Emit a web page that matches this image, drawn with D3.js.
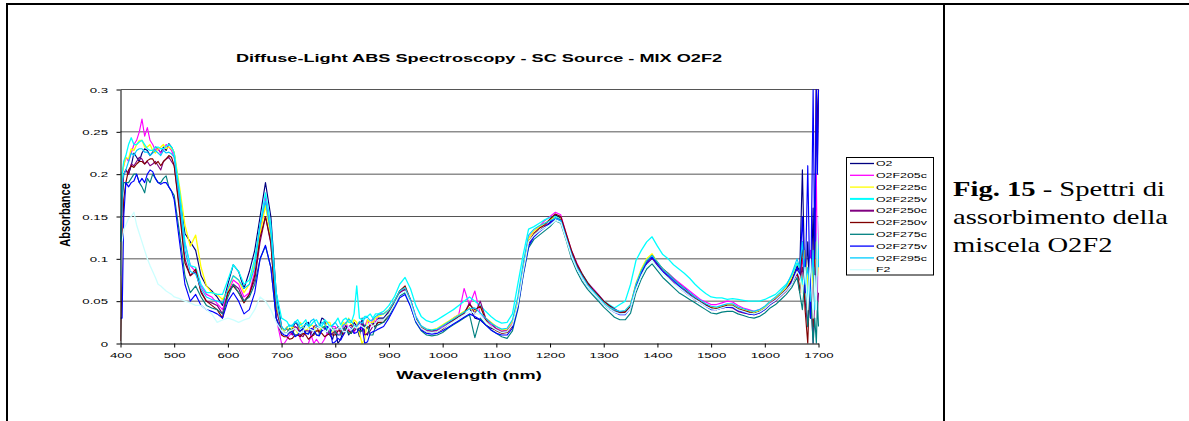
<!DOCTYPE html>
<html><head><meta charset="utf-8">
<script src="https://cdn.jsdelivr.net/npm/d3@7"></script>
<style>body{margin:0;background:#fff}svg{display:block}</style>
</head><body><svg id="c" width="1189" height="421"></svg>
<script>
// ---------- DATA ----------
const wavelengths = [400,403,406,
 410,415,420,425,430,435,440,445,450,455,460,465,470,475,480,485,490,495,500,
 510,520,530,540,550,560,570,580,590,600,
 610,620,630,640,650,660,670,680,690,
 700,705,710,715,720,725,730,735,740,745,750,755,760,765,770,775,780,785,790,795,
 800,805,810,815,820,825,830,835,840,845,850,855,860,865,870,875,880,
 890,900,
 910,920,930,940,950,960,970,980,990,1000,
 1010,1020,1030,1040,1050,1060,1070,1080,1090,1100,
 1110,1120,1130,1140,1150,1160,1170,1180,1190,1200,
 1210,1220,1230,1240,1250,1260,1270,1280,1290,1300,
 1310,1320,1330,1340,1350,1360,1370,1380,1390,1400,
 1410,1420,1430,1440,1450,1460,1470,1480,1490,1500,
 1510,1520,1530,1540,1550,1560,1570,1580,1590,1600,
 1610,1620,1630,1640,1650,1660,
 1665,1670,1675,1680,1685,1690,1693,1696,1698,1700];

const seriesNames = ["O2","O2F205c","O2F225c","O2F225v","O2F250c","O2F250v","O2F275c","O2F275v","O2F295c","F2"];
const seriesColors = ["#000080","#FF00FF","#FFFF00","#00FFFF","#800080","#800000","#008080","#0000FF","#00CCFF","#CCFFFF"];

const O2 = [.10,.19,.2,
 .205,.2,.21,.225,.22,.215,.225,.23,.228,.222,.226,.232,.23,.225,.232,.228,.236,.232,.225,
 .175,.13,.12,.11,.08,.068,.062,.055,.045,.07,
 .093,.085,.065,.085,.11,.15,.19,.15,.06,
 .02,.015,.018,.012,.016,.025,.022,.01,.015,.024,.025,.008,.012,.02,.02,.03,.028,.012,.01,.005,
 .018,.0,.005,.015,.022,.01,.015,.025,.02,.008,.03,.012,.01,.022,.025,.018,.03,
 .03,.038,
 .05,.062,.066,.05,.03,.02,.016,.015,.016,.02,
 .024,.028,.032,.037,.042,.03,.028,.022,.018,.016,
 .013,.014,.022,.045,.085,.118,.128,.133,.138,.143,
 .152,.148,.128,.108,.092,.08,.07,.062,.055,.048,
 .043,.039,.036,.037,.044,.068,.084,.097,.104,.096,
 .088,.083,.077,.071,.066,.06,.055,.05,.046,.043,
 .042,.044,.046,.045,.041,.039,.037,.036,.038,.042,
 .048,.052,.058,.064,.075,.092,
 .085,.205,.06,.12,.03,.16,.05,.3,.25,.3];

const O2F205c = [.10,.20,.21,
 .22,.215,.225,.235,.24,.25,.265,.245,.255,.24,.235,.228,.23,.225,.228,.235,.232,.228,.22,
 .17,.118,.092,.085,.068,.058,.055,.047,.04,.06,
 .075,.07,.055,.06,.085,.13,.172,.13,.03,
 .0,.0,.005,.01,.012,.02,.018,.005,.0,.0,.0,.01,.0,.005,.0,.0,.005,.012,.015,.02,
 .02,.01,.012,.02,.025,.015,.018,.012,.022,.025,.015,.02,.028,.02,.03,.025,.035,
 .035,.04,
 .05,.06,.065,.052,.032,.02,.015,.014,.015,.02,
 .025,.03,.034,.065,.045,.062,.035,.028,.022,.018,
 .015,.016,.025,.05,.09,.125,.133,.138,.145,.15,
 .155,.152,.13,.11,.095,.082,.072,.065,.058,.05,
 .045,.04,.037,.038,.045,.07,.086,.098,.103,.095,
 .087,.082,.077,.072,.067,.062,.057,.052,.049,.046,
 .046,.048,.05,.049,.045,.042,.04,.038,.04,.043,
 .048,.053,.058,.063,.072,.085,
 .08,.1,.07,.05,.11,.04,.12,.2,.06,.15];

const O2F225c = [.11,.2,.21,
 .22,.218,.23,.228,.235,.24,.24,.232,.232,.235,.228,.225,.23,.232,.235,.23,.232,.23,.226,
 .185,.14,.115,.128,.09,.068,.06,.058,.052,.062,
 .08,.075,.06,.07,.095,.13,.163,.125,.045,
 .018,.015,.02,.012,.02,.018,.012,.025,.018,.015,.018,.022,.02,.015,.015,.02,.02,.025,.025,.012,
 .015,.02,.018,.025,.022,.03,.02,.028,.025,.012,.0,.005,.028,.025,.025,.03,.032,
 .035,.04,
 .05,.062,.066,.05,.03,.02,.017,.016,.018,.022,
 .026,.03,.034,.038,.042,.038,.045,.03,.025,.02,
 .016,.017,.026,.05,.09,.124,.133,.138,.142,.146,
 .15,.147,.127,.107,.092,.08,.07,.062,.055,.048,
 .043,.04,.037,.038,.046,.071,.088,.1,.106,.096,
 .088,.082,.076,.07,.064,.059,.054,.05,.046,.043,
 .042,.044,.046,.046,.042,.04,.038,.037,.039,.043,
 .05,.054,.06,.066,.078,.095,
 .09,.06,.11,.07,.04,.09,.05,.12,.08,.1];

const O2F225v = [.12,.2,.215,
 .222,.235,.243,.235,.235,.238,.24,.235,.23,.228,.228,.232,.232,.23,.23,.233,.235,.232,.225,
 .18,.12,.092,.09,.07,.06,.06,.058,.058,.075,
 .093,.085,.07,.075,.1,.14,.178,.14,.06,
 .03,.028,.026,.02,.022,.025,.028,.022,.024,.028,.02,.022,.026,.028,.022,.02,.028,.025,.02,.022,
 .025,.03,.022,.028,.03,.025,.025,.035,.068,.03,.028,.032,.032,.035,.03,.035,.035,
 .038,.045,
 .055,.07,.078,.065,.045,.032,.027,.025,.028,.032,
 .036,.04,.045,.05,.055,.05,.045,.038,.032,.027,
 .024,.025,.035,.07,.105,.135,.138,.142,.146,.149,
 .15,.146,.126,.108,.093,.082,.072,.064,.057,.05,
 .046,.042,.046,.05,.07,.098,.11,.12,.126,.115,
 .105,.1,.093,.088,.083,.077,.07,.064,.059,.055,
 .054,.054,.052,.053,.052,.051,.05,.05,.05,.052,
 .055,.058,.064,.07,.08,.095,
 .09,.07,.1,.05,.08,.03,.09,.06,.12,.1];

const O2F250c = [.05,.17,.2,
 .205,.2,.212,.21,.215,.22,.218,.212,.215,.21,.212,.215,.21,.205,.215,.218,.22,.215,.21,
 .16,.1,.08,.085,.062,.05,.048,.045,.035,.06,
 .07,.065,.05,.058,.075,.12,.15,.118,.04,
 .015,.012,.012,.015,.01,.02,.018,.01,.008,.015,.015,.012,.02,.022,.012,.015,.018,.02,.01,.012,
 .015,.02,.012,.018,.015,.02,.022,.015,.018,.025,.025,.01,.012,.015,.02,.025,.028,
 .028,.035,
 .048,.06,.064,.05,.03,.019,.015,.014,.015,.018,
 .023,.027,.03,.035,.048,.035,.05,.03,.024,.017,
 .014,.015,.022,.045,.085,.118,.128,.133,.138,.143,
 .148,.146,.127,.107,.092,.08,.07,.063,.057,.05,
 .045,.041,.037,.037,.043,.066,.082,.094,.1,.092,
 .085,.078,.072,.066,.061,.056,.052,.048,.045,.042,
 .04,.042,.043,.042,.038,.036,.035,.034,.036,.04,
 .046,.05,.056,.062,.07,.082,
 .075,.09,.05,.02,.07,.0,.06,.1,.04,.06];

const O2F250v = [.003,.1,.17,
 .19,.205,.21,.208,.212,.215,.215,.212,.216,.218,.218,.212,.215,.21,.215,.218,.222,.22,.21,
 .155,.095,.08,.088,.06,.05,.045,.04,.03,.06,
 .068,.06,.048,.058,.08,.125,.15,.12,.03,
 .01,.008,.008,.005,.006,.01,.01,.008,.012,.01,.005,.008,.01,.015,.015,.012,.008,.01,.012,.01,
 .01,.015,.015,.01,.018,.015,.012,.018,.02,.015,.015,.02,.018,.022,.022,.02,.025,
 .025,.035,
 .048,.062,.068,.052,.03,.018,.014,.013,.014,.017,
 .022,.027,.032,.036,.046,.04,.044,.028,.02,.015,
 .012,.013,.02,.044,.085,.12,.13,.136,.14,.147,
 .153,.15,.13,.11,.094,.082,.072,.064,.057,.05,
 .045,.04,.037,.037,.044,.068,.085,.097,.104,.095,
 .088,.082,.076,.07,.064,.059,.054,.05,.046,.042,
 .041,.043,.045,.045,.041,.039,.037,.035,.037,.041,
 .047,.052,.058,.064,.074,.088,
 .06,.12,.04,.0,.1,.02,.14,.3,.22,.3];

const O2F275c = [.12,.17,.19,
 .19,.19,.195,.2,.2,.19,.185,.178,.195,.19,.2,.195,.19,.19,.195,.198,.185,.18,.175,
 .13,.08,.06,.068,.055,.045,.042,.04,.035,.055,
 .07,.06,.05,.055,.07,.1,.115,.09,.03,
 .015,.012,.012,.018,.015,.01,.01,.015,.018,.012,.012,.016,.016,.01,.01,.018,.02,.015,.012,.018,
 .014,.01,.01,.018,.016,.012,.012,.02,.018,.015,.015,.022,.02,.01,.01,.02,.022,
 .025,.032,
 .045,.056,.06,.045,.025,.015,.01,.009,.01,.013,
 .018,.022,.026,.03,.034,.007,.03,.022,.016,.012,
 .008,.006,.015,.04,.08,.113,.123,.128,.133,.138,
 .145,.142,.122,.1,.085,.073,.064,.057,.05,.043,
 .037,.031,.028,.028,.036,.06,.076,.088,.094,.086,
 .078,.072,.066,.06,.056,.052,.048,.044,.04,.036,
 .035,.037,.038,.038,.035,.033,.031,.03,.032,.036,
 .042,.046,.052,.058,.066,.078,
 .06,.04,.08,.02,.06,.0,.03,.0,.05,.02];

const O2F275v = [.03,.03,.15,
 .19,.185,.19,.192,.2,.19,.195,.19,.2,.205,.203,.195,.19,.188,.19,.19,.185,.18,.17,
 .12,.07,.05,.058,.045,.04,.038,.035,.03,.05,
 .06,.05,.035,.04,.06,.1,.116,.09,.03,
 .012,.01,.009,.013,.014,.008,.01,.015,.017,.012,.011,.018,.016,.01,.009,.015,.016,.02,.018,.0,
 .002,.006,.004,.01,.015,.02,.018,.012,.013,.018,.02,.0,.002,.012,.014,.015,.017,
 .02,.03,
 .042,.054,.058,.044,.026,.016,.012,.011,.012,.015,
 .019,.023,.027,.031,.035,.032,.028,.022,.016,.012,
 .01,.01,.018,.042,.082,.115,.126,.132,.137,.142,
 .148,.145,.125,.104,.089,.077,.067,.06,.053,.046,
 .041,.037,.034,.034,.042,.066,.083,.095,.102,.093,
 .085,.08,.074,.068,.062,.057,.052,.048,.044,.04,
 .04,.042,.043,.043,.039,.037,.035,.034,.036,.04,
 .046,.051,.057,.063,.072,.09,
 .08,.15,.06,.21,.03,.3,.1,.3,.2,.3];

const O2F295c = [.08,.19,.2,
 .205,.215,.225,.222,.228,.23,.23,.226,.226,.222,.225,.228,.225,.222,.228,.225,.226,.224,.22,
 .17,.11,.085,.082,.065,.055,.052,.05,.048,.065,
 .08,.075,.065,.07,.09,.14,.168,.13,.05,
 .02,.016,.019,.022,.02,.026,.024,.018,.02,.023,.021,.027,.029,.02,.019,.025,.023,.017,.019,.021,
 .025,.02,.017,.022,.024,.029,.026,.021,.02,.026,.024,.03,.031,.027,.028,.032,.034,
 .035,.04,
 .05,.062,.066,.052,.032,.021,.017,.016,.017,.021,
 .025,.029,.033,.037,.041,.042,.036,.03,.024,.02,
 .017,.018,.028,.055,.095,.128,.135,.139,.142,.145,
 .148,.145,.125,.105,.09,.079,.069,.062,.055,.048,
 .043,.04,.038,.039,.046,.07,.086,.098,.104,.096,
 .088,.082,.076,.07,.065,.06,.055,.051,.047,.044,
 .043,.045,.047,.047,.043,.041,.039,.038,.04,.044,
 .05,.055,.061,.068,.082,.1,
 .09,.12,.07,.09,.05,.11,.04,.08,.13,.09];

const F2 = [.05,.12,.135,
 .14,.148,.15,.155,.14,.13,.12,.11,.1,.092,.085,.078,.07,.068,.065,.062,.06,.058,.055,
 .053,.05,.048,.045,.045,.04,.035,.025,.028,.03,
 .028,.025,.028,.03,.04,.055,.05,.04,.025,
 .015,.012,.012,.015,.016,.018,.014,.012,.014,.02,.018,.016,.015,.018,.02,.018,.015,.014,.02,.016,
 .016,.018,.02,.014,.014,.02,.016,.02,.018,.022,.02,.018,.022,.024,.02,.024,.028,
 .028,.035,
 .046,.058,.062,.048,.028,.018,.014,.013,.014,.018,
 .022,.026,.03,.034,.038,.036,.034,.026,.02,.016,
 .013,.014,.022,.046,.085,.12,.128,.133,.137,.14,
 .145,.143,.123,.103,.088,.077,.067,.06,.053,.046,
 .041,.037,.035,.035,.042,.064,.08,.092,.098,.09,
 .083,.077,.071,.066,.061,.056,.052,.048,.044,.041,
 .04,.042,.044,.044,.04,.038,.036,.035,.037,.041,
 .047,.051,.057,.063,.07,.085,
 .08,.06,.09,.04,.1,.03,.08,.04,.12,.15];

const seriesValues = [O2,O2F205c,O2F225c,O2F225v,O2F250c,O2F250v,O2F275c,O2F275v,O2F295c,F2];

const xTicks = [400,500,600,700,800,900,1000,1100,1200,1300,1400,1500,1600,1700];
const yTicks = [0,0.05,0.1,0.15,0.2,0.25,0.3];
const yTickLabels = ["0","0.05","0.1","0.15","0.2","0.25","0.3"];

const chartTitle = "Diffuse-Light ABS Spectroscopy - SC Source - MIX O2F2";
const xTitle = "Wavelength (nm)";
const yTitle = "Absorbance";

// ---------- DRAW ----------
const svg = d3.select("#c");
const SANS = "'Liberation Sans', Arial, sans-serif";
const SERIF = "'Liberation Serif', 'Times New Roman', serif";
const SX = 1.65;

// table borders
svg.append("rect").attr("x",6).attr("y",3).attr("width",1183).attr("height",2).attr("fill","#000");
svg.append("rect").attr("x",6).attr("y",3).attr("width",2).attr("height",418).attr("fill","#000");
svg.append("rect").attr("x",943).attr("y",3).attr("width",2).attr("height",418).attr("fill","#000");

const x = d3.scaleLinear().domain([400,1700]).range([120.5,818.5]);
const y = d3.scaleLinear().domain([0,0.3]).range([343.5,89.5]);

// gridlines
svg.append("g").selectAll("line").data(yTicks.filter(d=>d>0)).join("line")
  .attr("x1",x(400)).attr("x2",x(1700)).attr("y1",d=>y(d)).attr("y2",d=>y(d))
  .attr("stroke","#555").attr("stroke-width",1);

// clip
svg.append("clipPath").attr("id","pc").append("rect")
  .attr("x",x(400)).attr("y",y(0.3)-1).attr("width",x(1700)-x(400)+1).attr("height",y(0)-y(0.3)+1);

const line = d3.line().x(d=>x(d[0])).y(d=>y(d[1]));
const gl = svg.append("g").attr("clip-path","url(#pc)");
seriesValues.forEach((vals,i)=>{
  const pts = wavelengths.map((w,k)=>[w,vals[k]]).filter(p=>p[1]!==undefined);
  gl.append("path").attr("d",line(pts)).attr("fill","none")
    .attr("stroke",seriesColors[i]).attr("stroke-width", (i===9||i===2||i===3) ? 1.3 : 1.15)
    .attr("stroke-linejoin","round");
});

// axes
const ax = svg.append("g").attr("transform",`translate(0,${y(0)})`)
  .call(d3.axisBottom(x).tickValues(xTicks).tickSize(4).tickSizeOuter(0).tickFormat(d3.format("d")));
ax.select(".domain").attr("stroke","#000");
ax.selectAll(".tick line").attr("stroke","#000");
ax.selectAll(".tick text").attr("y",9).attr("dy","0.71em")
  .attr("transform",`scale(${SX},1)`).style("font-family",SANS).style("font-size","8px").attr("fill","#000");

const ay = svg.append("g").attr("transform",`translate(${x(400)},0)`)
  .call(d3.axisLeft(y).tickValues(yTicks).tickSize(4).tickSizeOuter(0).tickFormat((d,i)=>yTickLabels[i]));
ay.select(".domain").attr("stroke","#000");
ay.selectAll(".tick line").attr("stroke","#000");
ay.selectAll(".tick text").attr("x",-12.5/SX).attr("dy","0.34em")
  .attr("transform",`scale(${SX},1)`).style("font-family",SANS).style("font-size","8px").attr("fill","#000");

// titles
svg.append("text").attr("transform",`translate(479,62) scale(${SX},1)`).attr("text-anchor","middle")
  .style("font-family",SANS).style("font-size","11px").style("font-weight","bold").text(chartTitle);
svg.append("text").attr("transform",`translate(469,379) scale(${SX},1)`).attr("text-anchor","middle")
  .style("font-family",SANS).style("font-size","11px").style("font-weight","bold").text(xTitle);
svg.append("text").attr("transform",`translate(70,215) rotate(-90) scale(1,1.35)`).attr("text-anchor","middle")
  .style("font-family",SANS).style("font-size","11px").style("font-weight","bold").text(yTitle);

// legend
svg.append("rect").attr("x",846.5).attr("y",157.5).attr("width",87).attr("height",117.5)
  .attr("fill","#fff").attr("stroke","#000").attr("stroke-width",1);
const lg = svg.append("g").selectAll("g").data(seriesNames).join("g")
  .attr("transform",(d,i)=>`translate(0,${163.5+i*11.8})`);
lg.append("line").attr("x1",850).attr("x2",874).attr("y1",0).attr("y2",0)
  .attr("stroke",(d,i)=>seriesColors[i]).attr("stroke-width",(d,i)=> (i===3||i===4)?2:1.3);
lg.append("text").attr("transform",`translate(876,0) scale(${SX},1)`).attr("dy","0.35em")
  .style("font-family",SANS).style("font-size","7.5px").text(d=>d);

// caption
const CSX = 1.43;
const cap = svg.append("g").style("font-family",SERIF).style("font-size","20px").attr("fill","#000");
const t1 = cap.append("text").attr("transform",`translate(953,196) scale(${CSX},1)`);
t1.append("tspan").style("font-weight","bold").text("Fig. 15");
t1.append("tspan").text(" -  Spettri di");
cap.append("text").attr("transform",`translate(953,224) scale(${CSX},1)`).text("assorbimento della");
cap.append("text").attr("transform",`translate(953,252) scale(${CSX},1)`).text("miscela O2F2");
</script>
</body></html>
